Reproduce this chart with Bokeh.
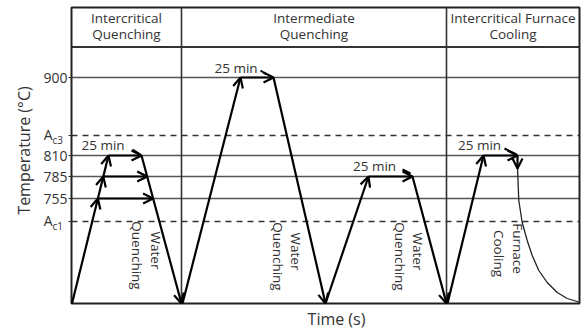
import math
from bokeh.plotting import figure
from bokeh.models import (Range1d, FixedTicker, ColumnDataSource, Arrow, OpenHead, Label)
from bokeh.core.properties import value
from bokeh.embed import file_html
from bokeh.resources import INLINE

FONT = "Open Sans"
TXT = "#333333"

# ---- schematic data (plot units: x = time, y = schematic temperature level) ----
tick_pos = [82, 105, 127, 148, 168, 226]
tick_labels = ["", "755", "785", "810", "", "900"]
solid_levels = [105, 127, 148, 226]
dashed_levels = [82, 168]
crit_names = ["c1", "c3"]
crit_pos = [82, 168]

x_max = 508
y_max = 296
header_line = 256.5
dividers = [110, 375]

title_x = [55, 242.5, 441.5]
title_line1 = ["Intercritical", "Intermediate", "Intercritical Furnace"]
title_line2 = ["Quenching", "Quenching", "Cooling"]
title_y1 = 285.5
title_y2 = 269.5

# heating / holding / cooling path segments with arrowheads
arr_x0 = [0.5, 26.4, 31.8, 26.4, 31.8, 37, 70, 111, 169, 202, 254, 297, 341, 376, 412, 446]
arr_y0 = [0, 105, 127, 105, 127, 148, 148, 0, 226, 226, 0, 127, 127, 0, 148, 148]
arr_x1 = [26.4, 31.8, 37, 81.6, 75.7, 70, 110, 169, 202, 254, 297, 341, 375, 412, 446, 446]
arr_y1 = [105, 127, 148, 105, 127, 148, 0, 226, 226, 0, 127, 127, 0, 148, 148, 135]

# small strokes after the "25 min" marks
hook_x0 = [61, 189, 331, 433]
hook_y0 = [154, 233, 134, 155]
hook_x1 = [69, 195, 339, 445]
hook_y1 = [149, 229, 130, 149]

hold_x = [31.5, 164.5, 303, 408]
hold_y = [158.5, 236, 137.5, 158.5]
hold_text = ["25 min", "25 min", "25 min", "25 min"]

# furnace cooling curve
curve_x = [446, 446.6, 447.3, 450.7, 455.7, 460.7, 467.3, 475.7, 485.7, 495.7, 505.7, 507]
curve_y = [136, 120, 103, 81, 63, 48, 33, 21, 11, 5, 2, 1]

# rotated process labels
rot_x = [84, 65, 224, 206, 346, 328, 446, 427]
rot_y = [53, 48, 52, 47, 52, 47, 55, 50]
rot_text = ["Water", "Quenching", "Water", "Quenching", "Water", "Quenching", "Furnace", "Cooling"]

# ---- figure: the frame fills the canvas, axes sit at fixed locations inside it ----
p = figure(width=583, height=329, output_backend="svg", toolbar_location=None,
           x_range=Range1d(-71, x_max + 4), y_range=Range1d(-26, y_max + 7),
           min_border_left=0, min_border_right=0, min_border_top=0, min_border_bottom=0)
p.grid.visible = False
p.background_fill_color = "white"
p.border_fill_color = "white"
p.outline_line_color = None

p.yaxis.fixed_location = 0
p.yaxis.bounds = (10, y_max)
p.yaxis.ticker = FixedTicker(ticks=tick_pos)
p.yaxis.major_label_overrides = {t: l for t, l in zip(tick_pos, tick_labels)}
p.yaxis.axis_line_color = None
p.yaxis.major_tick_line_color = "#333333"
p.yaxis.major_tick_out = 3
p.yaxis.major_tick_in = 0
p.yaxis.minor_tick_line_color = None
p.yaxis.major_label_standoff = 1
p.yaxis.major_label_text_font = FONT
p.yaxis.major_label_text_font_size = "14px"
p.yaxis.major_label_text_color = TXT
p.yaxis.axis_label = "Temperature (°C)"
p.yaxis.axis_label_text_font = FONT
p.yaxis.axis_label_text_font_size = "16px"
p.yaxis.axis_label_text_font_style = "normal"
p.yaxis.axis_label_text_color = TXT
p.yaxis.axis_label_standoff = 5

p.xaxis.fixed_location = 0
p.xaxis.bounds = (22, x_max)
p.xaxis.ticker = FixedTicker(ticks=[])
p.xaxis.axis_line_color = None
p.xaxis.major_tick_line_color = None
p.xaxis.minor_tick_line_color = None
p.xaxis.major_label_standoff = 0
p.xaxis.axis_label = "Time (s)"
p.xaxis.axis_label_text_font = FONT
p.xaxis.axis_label_text_font_size = "16px"
p.xaxis.axis_label_text_font_style = "normal"
p.xaxis.axis_label_text_color = TXT
p.xaxis.axis_label_standoff = 4

# level lines
p.segment(x0=[0] * len(solid_levels), y0=solid_levels, x1=[x_max] * len(solid_levels), y1=solid_levels,
          line_color="#555555", line_width=1.6)
p.segment(x0=[0] * len(dashed_levels), y0=dashed_levels, x1=[x_max] * len(dashed_levels), y1=dashed_levels,
          line_color="#333333", line_width=1.6, line_dash="6 5")
# header line and section dividers
p.segment(x0=[0], y0=[header_line], x1=[x_max], y1=[header_line], line_color="#333333", line_width=1.8)
p.segment(x0=dividers, y0=[0] * len(dividers), x1=dividers, y1=[y_max] * len(dividers),
          line_color="#333333", line_width=1.6)
# chart box
p.quad(left=[0], right=[x_max], bottom=[0], top=[y_max], fill_color=None,
       line_color="#222222", line_width=2)

# titles
p.text(x=title_x, y=[title_y1] * 3, text=title_line1, text_font=value(FONT), text_font_size="13.5px",
       text_color=TXT, text_align="center", text_baseline="middle")
p.text(x=title_x, y=[title_y2] * 3, text=title_line2, text_font=value(FONT), text_font_size="13.5px",
       text_color=TXT, text_align="center", text_baseline="middle")

# path arrows
src = ColumnDataSource(dict(x0=arr_x0, y0=arr_y0, x1=arr_x1, y1=arr_y1))
p.add_layout(Arrow(end=OpenHead(size=10, line_width=2.2, line_color="black"),
                   x_start="x0", y_start="y0", x_end="x1", y_end="y1", source=src,
                   line_color="black", line_width=2.2))
p.segment(x0=hook_x0, y0=hook_y0, x1=hook_x1, y1=hook_y1, line_color="black", line_width=2)
p.line(curve_x, curve_y, line_color="#222222", line_width=1.3)

p.text(x=hold_x, y=hold_y, text=hold_text, text_font=value(FONT), text_font_size="13.5px",
       text_color=TXT, text_align="center", text_baseline="middle")
p.text(x=rot_x, y=rot_y, text=rot_text, angle=-math.pi / 2, text_font=value(FONT), text_font_size="13.5px",
       text_color=TXT, text_align="center", text_baseline="middle")

# A_c1 / A_c3 tick labels with subscripts
for name, yp in zip(crit_names, crit_pos):
    p.add_layout(Label(x=0, y=yp, x_offset=-19, y_offset=1, text="A", text_align="right",
                       text_baseline="middle", text_font=FONT, text_font_size="14px", text_color=TXT))
    p.add_layout(Label(x=0, y=yp, x_offset=-19, y_offset=-4, text=name, text_align="left",
                       text_baseline="middle", text_font=FONT, text_font_size="10px", text_color=TXT))

open("out.html", "w").write(file_html(p, INLINE))
